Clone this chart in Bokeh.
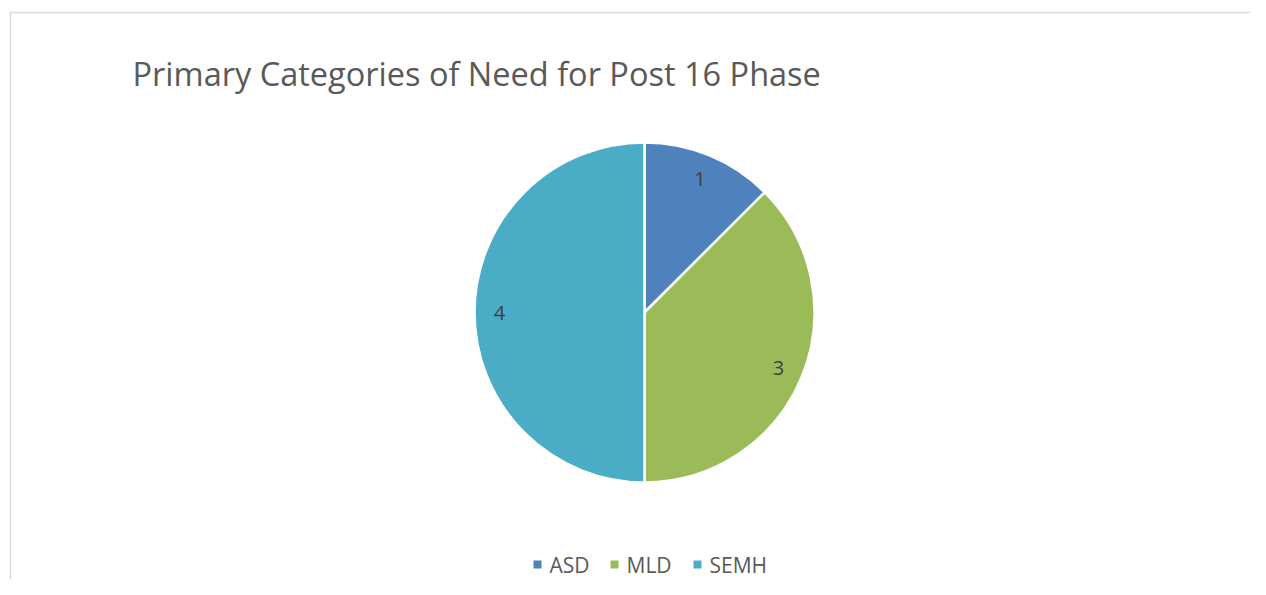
import numpy as np
from bokeh.plotting import figure
from bokeh.models import Range1d, ColumnDataSource
from bokeh.core.properties import value
from bokeh.embed import file_html
from bokeh.resources import INLINE

# ---- data ----
categories = ["ASD", "MLD", "SEMH"]
counts = [1, 3, 4]
colors = ["#4F81BD", "#9BBB59", "#4BACC6"]
title_text = "Primary Categories of Need for Post 16 Phase"

# ---- layout (picture pixels -> data coords) ----
W, H = 1250, 579
def px(x):
    return x
def py(y):
    return H - y

FONT = "Open Sans"

p = figure(width=W, height=H, output_backend="svg", toolbar_location=None,
           x_range=Range1d(0, W), y_range=Range1d(0, H), min_border=0)
p.axis.visible = False
p.grid.visible = False
p.outline_line_color = None
p.background_fill_color = "white"
p.border_fill_color = "white"

# chart area border: left and top edges (the rest lies outside the picture)
p.segment(x0=[px(10), px(10)], y0=[py(12), py(12)],
          x1=[px(10), px(W + 20)], y1=[py(H + 20), py(12)],
          line_color="#D9D9D9", line_width=1.5)

# title
p.text(x=[px(132)], y=[py(73)], text=[title_text], text_font=value(FONT),
       text_font_size="32.5px", text_color="#595959", text_align="left",
       text_baseline="alphabetic")

# pie
cx, cy, R = px(644), py(312), 170
vals = np.array(counts, dtype=float)
frac = vals / vals.sum()
ang = frac * 2 * np.pi
ends_cum = np.cumsum(ang)
starts_cum = ends_cum - ang
start_angle = np.pi / 2 - starts_cum
end_angle = np.pi / 2 - ends_cum
mid = np.pi / 2 - (starts_cum + ends_cum) / 2

src = ColumnDataSource(dict(cat=categories, val=counts, color=colors,
                            start=start_angle, end=end_angle))
p.wedge(x=cx, y=cy, radius=R, start_angle="start", end_angle="end",
        direction="clock", fill_color="color", line_color="white",
        line_width=2.5, source=src)

# data labels
lr = 145
p.text(x=cx + lr * np.cos(mid), y=cy + lr * np.sin(mid),
       text=[str(v) for v in counts], text_font=value(FONT),
       text_font_size="20px", text_color="#404040", text_align="center",
       text_baseline="middle")

# legend (manual)
leg_sq_x = [px(537), px(614), px(697)]
leg_y = py(564)
p.scatter(x=leg_sq_x, y=[leg_y] * 3, marker="square", size=8,
          fill_color=colors, line_color=None)
p.text(x=[x + 12 for x in leg_sq_x], y=[leg_y] * 3, text=categories,
       text_font=value(FONT), text_font_size="21px", text_color="#595959",
       text_align="left", text_baseline="middle")

open("out.html", "w").write(file_html(p, INLINE))
